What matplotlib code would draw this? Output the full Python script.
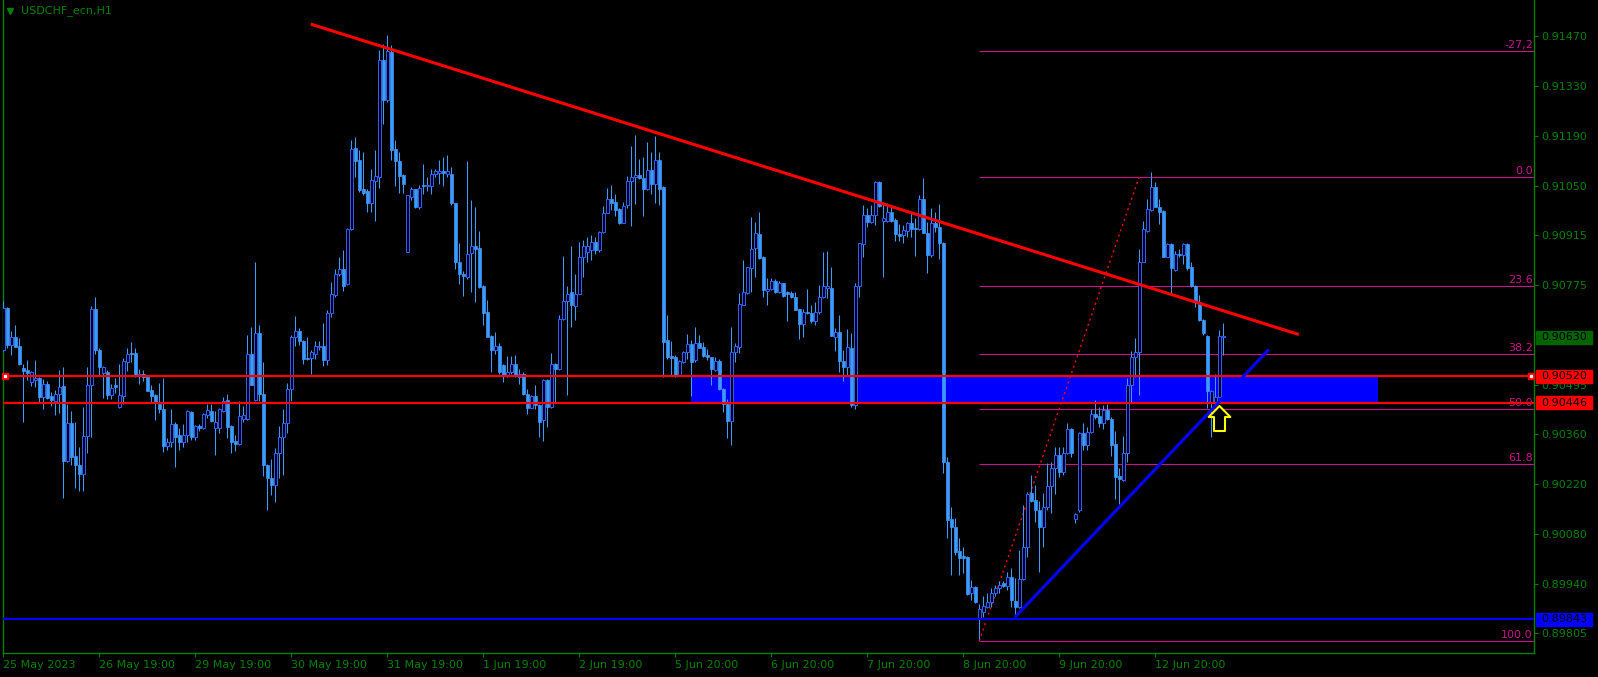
#!/usr/bin/env python
'''
USDCHF H1 chart, MT4 style, redrawn with matplotlib
'''
import numpy as np
import matplotlib
matplotlib.use("Agg")
import matplotlib.pyplot as plt
import matplotlib.transforms as mtransforms
from matplotlib.patches import Rectangle
from matplotlib.path import Path

# H1 bars, prices in units of 1e-5 (0.90593 -> 90593)
opens = [
    90593, 90712, 90607, 90630, 90604, 90543, 90537, 90505, 90510, 90516,
    90463, 90500, 90466, 90452, 90472, 90493, 90284, 90389, 90297, 90274,
    90249, 90353, 90495, 90708, 90595, 90530, 90532, 90468, 90495, 90435,
    90466, 90559, 90586, 90586, 90521, 90528, 90519, 90482, 90468, 90444,
    90430, 90326, 90337, 90387, 90356, 90337, 90356, 90421, 90351, 90381,
    90375, 90412, 90423, 90377, 90377, 90424, 90454, 90381, 90339, 90331,
    90400, 90400, 90584, 90454, 90640, 90472, 90274, 90238, 90216, 90305,
    90350, 90391, 90486, 90631, 90648, 90619, 90572, 90572, 90584, 90603,
    90604, 90567, 90696, 90747, 90805, 90821, 90777, 90931, 91158, 91123,
    91043, 91037, 91004, 91066, 91077, 91402, 91291, 91426, 91154, 91122,
    91082, 90868, 91021, 91043, 90993, 91054, 91052, 91052, 91086, 91088,
    91092, 91086, 91086, 91003, 90840, 90805, 90798, 90865, 90884, 90877,
    90772, 90699, 90632, 90593, 90604, 90551, 90521, 90531, 90556, 90519,
    90528, 90472, 90432, 90465, 90440, 90398, 90510, 90435, 90556, 90542,
    90679, 90731, 90756, 90716, 90751, 90852, 90868, 90872, 90894, 90872,
    90923, 90976, 91014, 91007, 90986, 90949, 90998, 91065, 91077, 91083,
    91074, 91042, 91096, 91056, 91125, 91049, 90622, 90577, 90575, 90524,
    90561, 90587, 90611, 90566, 90614, 90601, 90580, 90574, 90538, 90563,
    90485, 90442, 90397, 90587, 90603, 90719, 90752, 90822, 90878, 90917,
    90852, 90759, 90763, 90785, 90755, 90780, 90756, 90752, 90743, 90707,
    90665, 90699, 90696, 90675, 90699, 90741, 90766, 90766, 90631, 90643,
    90563, 90547, 90600, 90440, 90771, 90890, 90970, 90952, 90970, 91063,
    90954, 90954, 90978, 90957, 90917, 90915, 90927, 90947, 90933, 90931,
    91014, 90921, 90859, 90949, 90936, 90893, 90281, 90121, 90101, 90033,
    90019, 90017, 89915, 89932, 89842, 89864, 89878, 89892, 89915, 89929,
    89943, 89935, 89961, 89894, 89878, 89954, 90043, 90194, 90175, 90148,
    90101, 90157, 90214, 90264, 90301, 90254, 90307, 90373, 90122, 90148,
    90361, 90329, 90366, 90415, 90410, 90389, 90426, 90400, 90332, 90241,
    90231, 90306, 90496, 90573, 90589, 90840, 90927, 90984, 91048, 90994,
    90982, 90854, 90890, 90817, 90861, 90859, 90889, 90824, 90773, 90729,
    90677, 90633, 90450, 90450, 90464, 90631,
]
highs = [
    90730, 90714, 90646, 90663, 90626, 90556, 90567, 90536, 90567, 90519,
    90514, 90508, 90477, 90481, 90537, 90546, 90443, 90423, 90392, 90323,
    90435, 90546, 90716, 90741, 90598, 90549, 90537, 90498, 90516, 90554,
    90571, 90598, 90615, 90598, 90541, 90537, 90523, 90495, 90470, 90501,
    90515, 90347, 90430, 90392, 90377, 90387, 90426, 90423, 90385, 90387,
    90417, 90443, 90443, 90423, 90433, 90462, 90470, 90384, 90356, 90451,
    90437, 90635, 90658, 90839, 90663, 90559, 90277, 90291, 90319, 90381,
    90428, 90503, 90635, 90690, 90655, 90621, 90629, 90593, 90620, 90618,
    90669, 90704, 90784, 90821, 90854, 90872, 90933, 91179, 91188, 91151,
    91147, 91044, 91098, 91151, 91430, 91449, 91472, 91444, 91179, 91147,
    91086, 91026, 91049, 91044, 91054, 91114, 91077, 91098, 91098, 91123,
    91133, 91137, 91105, 91004, 90891, 90815, 91121, 91012, 90993, 90925,
    90774, 90733, 90635, 90644, 90614, 90556, 90577, 90577, 90579, 90542,
    90533, 90486, 90468, 90496, 90444, 90514, 90514, 90586, 90558, 90691,
    90856, 90772, 90884, 90807, 90896, 90900, 90909, 90914, 90909, 90926,
    90996, 91047, 91054, 91030, 90991, 91007, 91079, 91163, 91193, 91128,
    91133, 91175, 91147, 91190, 91147, 91051, 90691, 90619, 90580, 90566,
    90592, 90638, 90622, 90659, 90636, 90617, 90596, 90575, 90575, 90569,
    90487, 90456, 90659, 90612, 90752, 90845, 90826, 90964, 90952, 90980,
    90856, 90794, 90794, 90791, 90785, 90782, 90759, 90759, 90757, 90709,
    90708, 90764, 90719, 90727, 90775, 90868, 90871, 90825, 90654, 90692,
    90594, 90652, 90640, 90782, 90893, 90998, 90989, 90998, 91066, 91066,
    91008, 91005, 90998, 90961, 90945, 90943, 90952, 90975, 90961, 91026,
    91073, 90952, 90989, 90980, 91001, 90895, 90296, 90157, 90124, 90070,
    90045, 90019, 89952, 89934, 89884, 89906, 89915, 89929, 89938, 89948,
    89950, 89975, 89985, 89957, 90036, 90161, 90198, 90245, 90217, 90173,
    90194, 90278, 90282, 90322, 90322, 90322, 90389, 90376, 90138, 90366,
    90391, 90380, 90428, 90454, 90434, 90440, 90443, 90406, 90369, 90264,
    90354, 90515, 90592, 90626, 90875, 90955, 91014, 91090, 91062, 91014,
    90985, 90891, 90891, 90871, 90875, 90891, 90891, 90838, 90775, 90747,
    90679, 90636, 90482, 90527, 90650, 90668,
]
lows = [
    90591, 90598, 90581, 90601, 90551, 90393, 90510, 90493, 90491, 90449,
    90430, 90457, 90438, 90412, 90418, 90181, 90282, 90274, 90209, 90201,
    90201, 90307, 90350, 90582, 90523, 90460, 90456, 90457, 90474, 90433,
    90443, 90536, 90559, 90519, 90500, 90508, 90478, 90449, 90398, 90418,
    90309, 90314, 90324, 90268, 90316, 90324, 90337, 90344, 90342, 90367,
    90373, 90405, 90394, 90300, 90363, 90421, 90347, 90307, 90312, 90328,
    90393, 90398, 90496, 90452, 90452, 90243, 90147, 90189, 90170, 90237,
    90246, 90363, 90452, 90605, 90607, 90554, 90567, 90526, 90569, 90593,
    90549, 90551, 90686, 90742, 90800, 90759, 90775, 90928, 91077, 91035,
    91026, 90979, 90979, 90954, 91046, 91224, 91286, 91123, 91051, 91032,
    91032, 90868, 91012, 90990, 90987, 91029, 91038, 91029, 91077, 91058,
    91052, 91077, 90998, 90821, 90779, 90745, 90793, 90756, 90728, 90768,
    90663, 90629, 90533, 90584, 90528, 90505, 90519, 90528, 90519, 90500,
    90468, 90415, 90431, 90428, 90350, 90340, 90379, 90431, 90449, 90539,
    90677, 90468, 90658, 90677, 90750, 90798, 90838, 90844, 90863, 90866,
    90919, 90975, 90984, 90968, 90945, 90947, 90989, 90940, 91001, 91072,
    90967, 91040, 91029, 91003, 90998, 90519, 90570, 90521, 90519, 90521,
    90557, 90568, 90466, 90561, 90598, 90575, 90566, 90496, 90536, 90482,
    90422, 90349, 90329, 90559, 90585, 90718, 90750, 90757, 90798, 90847,
    90743, 90718, 90761, 90752, 90752, 90743, 90675, 90738, 90704, 90625,
    90631, 90694, 90668, 90664, 90694, 90738, 90738, 90633, 90592, 90533,
    90508, 90524, 90436, 90428, 90741, 90852, 90938, 90949, 90942, 90994,
    90798, 90952, 90952, 90899, 90899, 90891, 90910, 90910, 90856, 90929,
    90919, 90808, 90854, 90924, 90847, 90250, 90068, 89966, 90022, 89966,
    89971, 89910, 89896, 89889, 89787, 89850, 89873, 89878, 89906, 89917,
    89932, 89924, 89878, 89854, 89873, 89952, 90017, 90170, 90115, 89975,
    90045, 90148, 90138, 90192, 90239, 90245, 90304, 90296, 90112, 90143,
    90315, 90315, 90361, 90400, 90380, 90372, 90399, 90298, 90177, 90164,
    90229, 90280, 90445, 90519, 90468, 90838, 90924, 90983, 90992, 90945,
    90852, 90852, 90750, 90815, 90854, 90834, 90817, 90769, 90715, 90676,
    90636, 90431, 90352, 90440, 90462, 90580,
]
closes = [
    90712, 90607, 90629, 90603, 90554, 90536, 90530, 90532, 90516, 90463,
    90498, 90460, 90454, 90472, 90491, 90284, 90389, 90296, 90274, 90249,
    90353, 90495, 90708, 90595, 90545, 90545, 90468, 90489, 90490, 90468,
    90563, 90584, 90583, 90521, 90528, 90519, 90480, 90466, 90449, 90430,
    90326, 90337, 90387, 90351, 90337, 90356, 90423, 90351, 90381, 90375,
    90415, 90426, 90396, 90394, 90430, 90451, 90379, 90337, 90331, 90409,
    90412, 90584, 90496, 90640, 90472, 90274, 90238, 90216, 90305, 90350,
    90391, 90486, 90631, 90648, 90619, 90570, 90569, 90587, 90604, 90606,
    90567, 90698, 90750, 90807, 90821, 90773, 90931, 91156, 91122, 91040,
    91032, 91004, 91068, 91079, 91402, 91291, 91428, 91151, 91122, 91080,
    91056, 91026, 91043, 90993, 91047, 91050, 91054, 91086, 91093, 91092,
    91088, 91092, 91003, 90840, 90807, 90801, 90863, 90884, 90876, 90770,
    90698, 90631, 90593, 90604, 90531, 90521, 90531, 90556, 90521, 90528,
    90472, 90432, 90465, 90440, 90393, 90510, 90435, 90556, 90542, 90679,
    90731, 90751, 90719, 90751, 90852, 90884, 90884, 90894, 90872, 90922,
    90977, 91014, 91004, 90984, 90949, 90995, 91065, 91077, 91083, 91074,
    91042, 91096, 91056, 91125, 91044, 90617, 90575, 90572, 90524, 90563,
    90588, 90611, 90561, 90612, 90600, 90578, 90573, 90541, 90563, 90484,
    90442, 90397, 90587, 90605, 90722, 90755, 90824, 90875, 90919, 90851,
    90761, 90764, 90785, 90755, 90780, 90745, 90750, 90741, 90706, 90665,
    90699, 90696, 90675, 90699, 90742, 90773, 90771, 90634, 90643, 90563,
    90547, 90601, 90440, 90772, 90891, 90970, 90952, 90970, 91063, 90996,
    90961, 90978, 90954, 90917, 90913, 90929, 90949, 90931, 90931, 91014,
    90921, 90859, 90949, 90936, 90893, 90280, 90120, 90101, 90031, 90014,
    90014, 89912, 89932, 89892, 89870, 89880, 89892, 89915, 89929, 89938,
    89936, 89960, 89896, 89878, 89954, 90043, 90192, 90173, 90146, 90101,
    90157, 90214, 90264, 90301, 90254, 90307, 90373, 90307, 90136, 90361,
    90329, 90366, 90415, 90406, 90389, 90426, 90400, 90329, 90239, 90233,
    90307, 90496, 90573, 90589, 90840, 90931, 90986, 91048, 90994, 90980,
    90854, 90890, 90822, 90861, 90859, 90889, 90822, 90772, 90729, 90677,
    90640, 90478, 90480, 90464, 90633, 90633,
]

time_ticks = [0, 24, 48, 72, 96, 120, 144, 168, 192, 216, 240, 264, 288]
time_labels = ["25 May 2023", "26 May 19:00", "29 May 19:00", "30 May 19:00",
               "31 May 19:00", "1 Jun 19:00", "2 Jun 19:00", "5 Jun 20:00",
               "6 Jun 20:00", "7 Jun 20:00", "8 Jun 20:00", "9 Jun 20:00",
               "12 Jun 20:00"]
price_ticks = [0.91470, 0.91330, 0.91190, 0.91050, 0.90915, 0.90775,
               0.90495, 0.90360, 0.90220, 0.90080, 0.89940, 0.89805]

zone_top, zone_bot = 0.90520, 0.90446
base_level = 0.89843
bid = 0.90630

# objects drawn on the chart: (bar, price) anchors
res_line = [(76.9, 0.91503), (323.9, 0.90637)]
sup_line = [(252.9, 0.89848), (316.4, 0.90595)]
zone_bars = (171.9, 343.7)
fib_low = (244, 0.89782)
fib_high = (284, 0.91077)
fib_ratios = [-0.272, 0.0, 0.236, 0.382, 0.5, 0.618, 1.0]
fib_texts = ["-27,2", "0.0", "23.6", "38.2", "50.0", "61.8", "100.0"]
arrow_at = (304, 0.90405)

green = '#008000'
bear_c = '#3d9bff'
bull_edge = '#2f5cff'
wick_c = '#3d9bff'
fib_c = '#c8148c'

o = np.array(opens) / 1e5
h = np.array(highs) / 1e5
l = np.array(lows) / 1e5
c = np.array(closes) / 1e5
x = np.arange(len(o))
up = c >= o

W, H = 1598, 677
fig = plt.figure(figsize=(W / 100, H / 100), dpi=100, facecolor='black')
ax = fig.add_axes([2.5 / W, 24 / H, (1534 - 2.5) / W, 653 / H])
ax.set_facecolor('black')
ax.set_xlim(-0.2, 382.7)
ax.set_ylim(0.897483, 0.915704)
xmax = ax.get_xlim()[1]

# support zone in background
ax.add_patch(Rectangle((zone_bars[0], zone_bot), zone_bars[1] - zone_bars[0],
                       zone_top - zone_bot, color='#0000ff', lw=0, zorder=1))

# fibonacci
span = fib_high[1] - fib_low[1]
fib_levels = [fib_high[1] - r * span for r in fib_ratios]
ax.hlines(fib_levels, fib_low[0], xmax, color=fib_c, lw=0.8, zorder=2)
ax.plot([fib_low[0], fib_high[0]], [fib_low[1], fib_high[1]], color='#ff0000',
        lw=1.0, ls=(0, (1.5, 2.5)), zorder=2)
trY = mtransforms.blended_transform_factory(ax.transAxes, ax.transData)
for lev, txt in zip(fib_levels, fib_texts):
    ax.text(0.9993, lev + 0.00003, txt, transform=trY, ha='right', va='bottom',
            color=fib_c, fontsize=8, zorder=2)

# candles
ax.vlines(x, l, h, color=wick_c, lw=0.75, zorder=3)
ax.bar(x[up], (c - o)[up], bottom=o[up], width=0.7, facecolor='black',
       edgecolor=bull_edge, linewidth=0.75, zorder=4)
ax.bar(x[~up], (o - c)[~up], bottom=c[~up], width=0.7, facecolor=bear_c,
       edgecolor=bear_c, linewidth=0.5, zorder=4)

# lines on top
ax.axhline(zone_top, color='#ff0000', lw=1.6, zorder=5)
ax.axhline(zone_bot, color='#ff0000', lw=1.6, zorder=5)
ax.axhline(base_level, color='#0000ff', lw=1.6, zorder=5)
ax.plot([0.45, 381.9], [zone_top] * 2, 's', ms=4.5, mfc='#ff0000', mec='#ff0000',
        zorder=6, clip_on=False)
ax.plot([0.45, 381.9], [zone_top] * 2, 's', ms=1.4, mfc='white', mec='white',
        zorder=7, clip_on=False)
ax.plot(*zip(*res_line), color='#ff0000', lw=2.2, solid_capstyle='butt', zorder=6)
ax.plot(*zip(*sup_line), color='#0000ff', lw=2.2, solid_capstyle='butt', zorder=6)

# yellow up arrow
arrow = Path([(0, 12.5), (-10.8, 1.5), (-5.5, 1.5), (-5.5, -12.5), (5.5, -12.5),
              (5.5, 1.5), (10.8, 1.5), (0, 12.5)], closed=True)
ax.plot([arrow_at[0]], [arrow_at[1]], marker=arrow, ms=18, mfc='black',
        mec='#ffff00', mew=1.5, zorder=8)

# axes look
for side in ('left', 'right', 'bottom'):
    ax.spines[side].set_color(green)
    ax.spines[side].set_linewidth(1)
ax.spines['top'].set_visible(False)
ax.yaxis.tick_right()
ax.set_yticks(price_ticks)
ax.set_yticklabels([f"{p:.5f}" for p in price_ticks])
ax.tick_params(axis='y', colors=green, length=3, width=0.8, pad=2, labelsize=8)
ax.set_xticks(time_ticks)
ax.set_xticklabels(time_labels)
ax.tick_params(axis='x', colors=green, length=3, width=0.8, pad=2, labelsize=8)
for lbl in ax.get_xticklabels():
    lbl.set_horizontalalignment('left')

# price boxes on the right scale
box_h = 13 * (0.915704 - 0.897483) / 653
for price, col in [(bid, '#006400'), (zone_top, '#ff0000'),
                   (zone_bot, '#ff0000'), (base_level, '#0000ff')]:
    ax.add_patch(Rectangle((1.0013, price - box_h / 2), 0.0366, box_h,
                           transform=trY, color=col, clip_on=False, zorder=9))
    ax.text(1.0045, price, f"{price:.5f}", transform=trY, ha='left',
            va='center', color='black', fontsize=8, zorder=10, clip_on=False)

# symbol caption
ax.plot([(10 - 2.5) / 1531.5], [1 - 11 / 653], 'v', ms=5, color=green,
        transform=ax.transAxes, clip_on=False)
fig.text(21 / W, 1 - 11 / H, "USDCHF_ecn,H1", color=green, fontsize=8,
         ha='left', va='center')

fig.savefig('out.png', dpi=100, facecolor='black')
